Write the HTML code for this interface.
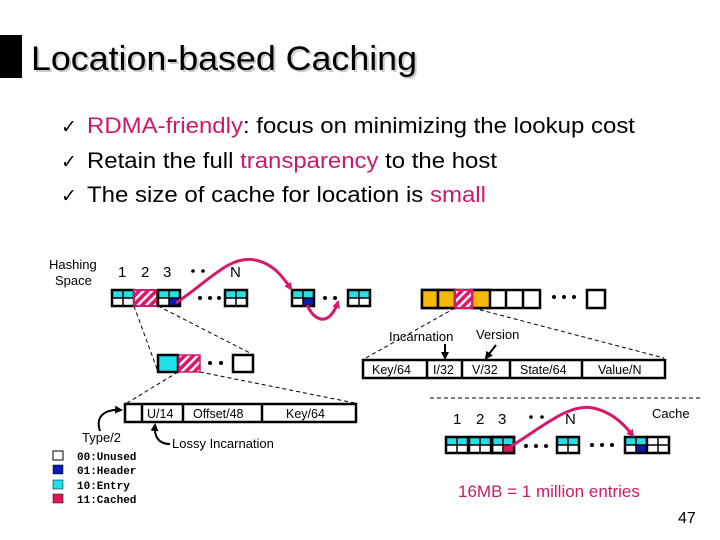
<!DOCTYPE html>
<html><head><meta charset="utf-8"><style>
body{margin:0;background:#fff;}
svg{display:block;}
text{font-family:"Liberation Sans",sans-serif;}
.m{font-family:"Liberation Mono",monospace;font-weight:bold;font-size:11px;}
</style></head><body>
<svg width="720" height="540" viewBox="0 0 720 540" xmlns="http://www.w3.org/2000/svg">
<defs>
<pattern id="h" width="6" height="6" patternUnits="userSpaceOnUse" patternTransform="rotate(45)">
<rect width="6" height="6" fill="#d6196a"/><rect width="2.4" height="6" fill="#fff"/></pattern>
<g id="b"><rect x="0" y="0" width="22" height="16" fill="#fff"/><rect x="0" y="0" width="22" height="8" fill="#22e0e8"/>
<line x1="11" y1="0" x2="11" y2="16" stroke="#000" stroke-width="1.5"/><line x1="0" y1="8" x2="22" y2="8" stroke="#000" stroke-width="1.5"/>
<rect x="0" y="0" width="22" height="16" fill="none" stroke="#000" stroke-width="2.5"/></g>
<g id="bb"><rect x="0" y="0" width="22" height="16" fill="#fff"/><rect x="0" y="0" width="22" height="8" fill="#22e0e8"/><rect x="11" y="8" width="11" height="8" fill="#0a1ab0"/>
<line x1="11" y1="0" x2="11" y2="16" stroke="#000" stroke-width="1.5"/><line x1="0" y1="8" x2="22" y2="8" stroke="#000" stroke-width="1.5"/>
<rect x="0" y="0" width="22" height="16" fill="none" stroke="#000" stroke-width="2.5"/></g>
<g id="bw"><rect x="0" y="0" width="22" height="16" fill="#fff"/>
<line x1="11" y1="0" x2="11" y2="16" stroke="#000" stroke-width="1.5"/><line x1="0" y1="8" x2="22" y2="8" stroke="#000" stroke-width="1.5"/>
<rect x="0" y="0" width="22" height="16" fill="none" stroke="#000" stroke-width="2.5"/></g>
<marker id="ar" markerWidth="8" markerHeight="8" refX="6" refY="4" orient="auto" markerUnits="userSpaceOnUse"><path d="M0,0 L8,4 L0,8 z" fill="#d6196a"/></marker>
<marker id="ak" markerWidth="8" markerHeight="8" refX="6" refY="4" orient="auto" markerUnits="userSpaceOnUse"><path d="M0,0 L8,4 L0,8 z" fill="#000"/></marker>
</defs>

<rect x="0" y="35" width="22" height="43" fill="#000"/>
<text x="31" y="70" font-size="34" fill="#999" opacity="0.5" transform="translate(2,2)" textLength="386" lengthAdjust="spacingAndGlyphs">Location-based Caching</text>
<text x="31" y="70" font-size="34" textLength="386" lengthAdjust="spacingAndGlyphs">Location-based Caching</text>

<g font-size="22">
<text x="61" y="133" fill="#000" font-size="19">✓</text>
<text x="87" y="133" textLength="548" lengthAdjust="spacingAndGlyphs"><tspan fill="#cc1a6a">RDMA-friendly</tspan>: focus on minimizing the lookup cost</text>
<text x="61" y="168" fill="#000" font-size="19">✓</text>
<text x="87" y="168" textLength="410" lengthAdjust="spacingAndGlyphs">Retain the full <tspan fill="#cc1a6a">transparency</tspan> to the host</text>
<text x="61" y="202" fill="#000" font-size="19">✓</text>
<text x="87" y="202" textLength="399" lengthAdjust="spacingAndGlyphs">The size of cache for location is <tspan fill="#cc1a6a">small</tspan></text>
</g>

<g font-size="13"><text x="49" y="269">Hashing</text><text x="55" y="285">Space</text></g>
<g font-size="15"><text x="118" y="277">1</text><text x="141" y="277">2</text><text x="163" y="277">3</text><text x="230" y="277">N</text></g>
<g fill="#000"><circle cx="193" cy="271" r="1.8"/><circle cx="203" cy="271" r="1.8"/></g>

<use href="#b" x="112" y="290"/>
<rect x="134" y="290" width="23" height="16" fill="url(#h)" stroke="#d6196a" stroke-width="2"/>
<use href="#bb" x="158" y="290"/>
<g fill="#000"><circle cx="200" cy="298" r="2"/><circle cx="210" cy="298" r="2"/><circle cx="219" cy="298" r="2"/>
<circle cx="325" cy="298" r="2"/><circle cx="335" cy="298" r="2"/></g>
<use href="#b" x="225" y="290"/>
<use href="#bb" x="292" y="290"/>
<use href="#b" x="348" y="290"/>
<path d="M176,303 C210,280 230,255 255,260 C275,264 285,280 291,289" fill="none" stroke="#d6196a" stroke-width="3" marker-end="url(#ar)"/>
<path d="M307,305 C313,318 322,323 330,316 C334,312 336,308 338,302" fill="none" stroke="#d6196a" stroke-width="3" marker-end="url(#ar)"/>

<g stroke="#000" stroke-width="2.5">
<rect x="422" y="290" width="118" height="18" fill="#fff"/>
<rect x="422" y="290" width="16" height="18" fill="#f8b80a"/>
<rect x="438" y="290" width="17" height="18" fill="#f8b80a"/>
<rect x="472" y="290" width="18" height="18" fill="#f8b80a"/>
<line x1="506" y1="290" x2="506" y2="308"/><line x1="523" y1="290" x2="523" y2="308"/>
<rect x="587" y="290" width="18" height="18" fill="#fff"/>
</g>
<rect x="455" y="290" width="17" height="18" fill="url(#h)" stroke="#d6196a" stroke-width="2"/>
<g fill="#000"><circle cx="554" cy="297" r="2"/><circle cx="564" cy="297" r="2"/><circle cx="574" cy="297" r="2"/></g>

<g stroke="#000" stroke-width="1" stroke-dasharray="4,3" fill="none">
<line x1="455" y1="308" x2="364" y2="359"/><line x1="473" y1="308" x2="664" y2="358"/>
<line x1="134" y1="306" x2="157" y2="369"/><line x1="158" y1="306" x2="252" y2="354"/>
<line x1="178" y1="372" x2="127" y2="403"/><line x1="200" y1="372" x2="355" y2="403"/>
<line x1="430" y1="398" x2="700" y2="398"/>
</g>

<g font-size="13"><text x="389" y="341">Incarnation</text><text x="476" y="339">Version</text></g>
<line x1="445" y1="344" x2="445" y2="358" stroke="#000" stroke-width="2" marker-end="url(#ak)"/>
<line x1="496" y1="345" x2="486" y2="358" stroke="#000" stroke-width="2" marker-end="url(#ak)"/>

<g stroke="#000" stroke-width="2.5" fill="#fff">
<rect x="363" y="360" width="302" height="18"/>
<line x1="427" y1="360" x2="427" y2="378"/><line x1="462" y1="360" x2="462" y2="378"/>
<line x1="510" y1="360" x2="510" y2="378"/><line x1="582" y1="360" x2="582" y2="378"/>
</g>
<g font-size="12.5"><text x="372" y="374">Key/64</text><text x="433" y="374">I/32</text><text x="472" y="374">V/32</text><text x="520" y="374">State/64</text><text x="598" y="374">Value/N</text></g>

<g stroke="#000" stroke-width="2.5">
<rect x="158" y="355" width="20" height="17" fill="#22e0e8"/>
<rect x="233" y="355" width="20" height="17" fill="#fff"/>
</g>
<rect x="179" y="355" width="21" height="17" fill="url(#h)" stroke="#d6196a" stroke-width="1.5"/>
<g fill="#000"><circle cx="210" cy="363" r="2"/><circle cx="221" cy="363" r="2"/></g>

<g stroke="#000" stroke-width="2.5" fill="#fff">
<rect x="125" y="404" width="231" height="18"/>
<line x1="142" y1="404" x2="142" y2="422"/><line x1="183" y1="404" x2="183" y2="422"/><line x1="262" y1="404" x2="262" y2="422"/>
</g>
<g font-size="12.5"><text x="147" y="418">U/14</text><text x="193" y="418">Offset/48</text><text x="286" y="418">Key/64</text></g>
<text x="82" y="442" font-size="13">Type/2</text>
<path d="M100,431 C95,416 105,409 121,410" fill="none" stroke="#000" stroke-width="2" marker-end="url(#ak)"/>
<text x="172" y="448" font-size="13">Lossy Incarnation</text>
<path d="M170,444 C158,444 154,436 155,425" fill="none" stroke="#000" stroke-width="2" marker-end="url(#ak)"/>

<rect x="53" y="451" width="10" height="9" fill="#fff" stroke="#000" stroke-width="1"/>
<rect x="53" y="465" width="10" height="9" fill="#0a1ab0" stroke="#000" stroke-width="0.5"/>
<rect x="53" y="480" width="10" height="9" fill="#22e0e8" stroke="#000" stroke-width="0.5"/>
<rect x="53" y="494" width="10" height="9" fill="#e0155e" stroke="#000" stroke-width="0.5"/>
<text class="m" x="77" y="460">00:Unused</text>
<text class="m" x="77" y="474">01:Header</text>
<text class="m" x="77" y="489">10:Entry</text>
<text class="m" x="77" y="503">11:Cached</text>

<g font-size="15"><text x="453" y="424">1</text><text x="476" y="424">2</text><text x="498" y="424">3</text><text x="565" y="424">N</text></g>
<g fill="#000"><circle cx="531" cy="417" r="1.8"/><circle cx="542" cy="417" r="1.8"/></g>
<text x="652" y="418" font-size="13">Cache</text>
<use href="#b" x="446" y="437"/>
<use href="#b" x="469" y="437"/>
<use href="#b" x="492" y="437"/>
<rect x="503" y="445" width="11" height="8" fill="#e0155e" stroke="#000" stroke-width="1"/>
<rect x="492" y="437" width="22" height="16" fill="none" stroke="#000" stroke-width="2.5"/>
<g fill="#000"><circle cx="526" cy="446" r="2"/><circle cx="536" cy="446" r="2"/><circle cx="546" cy="446" r="2"/>
<circle cx="592" cy="445" r="2"/><circle cx="602" cy="445" r="2"/><circle cx="612" cy="445" r="2"/></g>
<use href="#b" x="557" y="437"/>
<use href="#bb" x="625" y="437"/>
<use href="#bw" x="647" y="437"/>
<path d="M510,447 C545,425 570,403 593,408 C612,412 625,425 633,436" fill="none" stroke="#d6196a" stroke-width="3" marker-end="url(#ar)"/>

<text x="458" y="497" font-size="17" fill="#cc1a6a">16MB = 1 million entries</text>
<text x="678" y="523" font-size="16">47</text>
</svg>
</body></html>
